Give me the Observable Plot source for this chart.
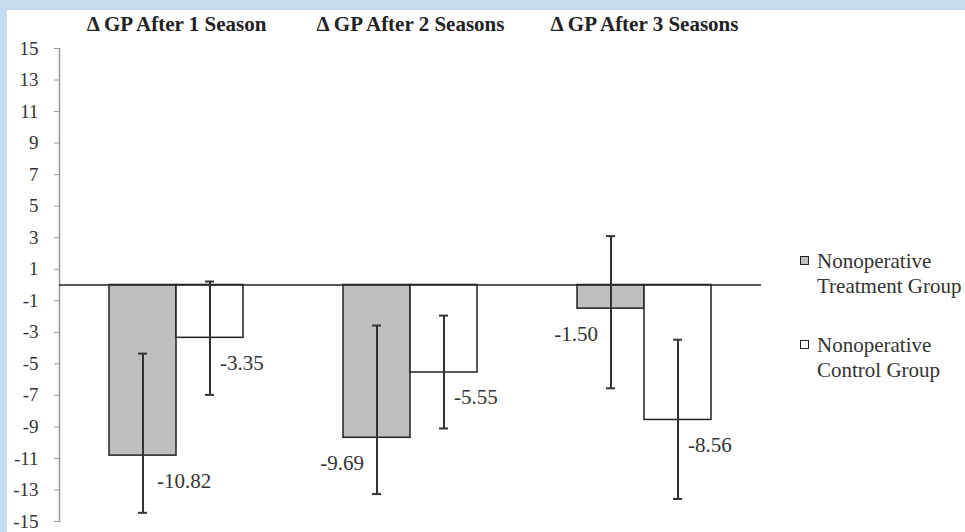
<!DOCTYPE html>
<html>
<head>
<meta charset="utf-8">
<script src="https://cdn.jsdelivr.net/npm/d3@7"></script>
<script src="https://cdn.jsdelivr.net/npm/@observablehq/plot@0.6"></script>
<style>
  html, body { margin: 0; padding: 0; }
  body { width: 965px; height: 532px; background: #c6dbf0; position: relative; overflow: hidden; font-family: "Liberation Serif", serif; }
  #panel { position: absolute; left: 7px; top: 10px; width: 958px; height: 522px; background: #ffffff; }
  #chart { position: absolute; left: 0; top: 0; }
  .legend { position: absolute; left: 793px; color: #333; font-size: 21px; line-height: 25px; font-family: "Liberation Serif", serif; }
  .legend .sw { position: absolute; left: 0; top: 7px; width: 7px; height: 7px; border: 1.5px solid #222; }
  .legend .txt { position: absolute; left: 17px; top: 0; white-space: nowrap; }
</style>
</head>
<body>
<div id="panel">
  <div id="chart"></div>
  <div class="legend" style="top:239px"><div class="sw" style="background:#bfbfbf"></div><div class="txt">Nonoperative<br>Treatment Group</div></div>
  <div class="legend" style="top:323px"><div class="sw" style="background:#ffffff"></div><div class="txt">Nonoperative<br>Control Group</div></div>
</div>
<script>
// ---- data ----
const seasons = ["Δ GP After 1 Season", "Δ GP After 2 Seasons", "Δ GP After 3 Seasons"];
const groups = ["Nonoperative Treatment Group", "Nonoperative Control Group"];
const treatmentMean = [-10.82, -9.69, -1.50];
const treatmentLow  = [-14.45, -13.26, -6.55];
const treatmentHigh = [-4.35, -2.57, 3.10];
const controlMean = [-3.35, -5.55, -8.56];
const controlLow  = [-6.97, -9.10, -13.57];
const controlHigh = [0.22, -1.94, -3.47];
const yTicks = [15, 13, 11, 9, 7, 5, 3, 1, -1, -3, -5, -7, -9, -11, -13, -15];
// which side of its error bar each treatment value label sits
const treatmentLabelSide = ["right", "left", "left"];

const rows = [];
seasons.forEach((s, i) => {
  rows.push({season: s, group: groups[0], mean: treatmentMean[i], low: treatmentLow[i], high: treatmentHigh[i], side: treatmentLabelSide[i]});
  rows.push({season: s, group: groups[1], mean: controlMean[i], low: controlLow[i], high: controlHigh[i], side: "right"});
});

const labelY = d => d.mean - 1.6;
const fmt = d => d.mean.toFixed(2);

const chart = Plot.plot({
  width: 958,
  height: 522,
  marginLeft: 51,
  marginRight: 203,
  marginTop: 38,
  marginBottom: 11,
  style: {fontFamily: "'Liberation Serif', serif", background: "transparent", color: "#333", overflow: "visible"},
  fx: {domain: seasons, padding: 0, label: null},
  x: {domain: groups, paddingInner: 0, paddingOuter: 0.726, axis: null},
  y: {domain: [-15, 15]},
  color: {domain: groups, range: ["#bfbfbf", "#ffffff"]},
  marks: [
    Plot.axisFx({anchor: "top", tickSize: 0, tickPadding: 18, fontSize: 21, fontWeight: "bold", fill: "#222", label: null}),
    Plot.axisY({ticks: yTicks, tickSize: 5, tickPadding: 16, tickFormat: d => String(d), fontSize: 19, stroke: "#999", fill: "#333", label: null}),
    Plot.frame({anchor: "left", facetAnchor: "left", stroke: "#999", strokeWidth: 1.5}),
    Plot.barY(rows, {fx: "season", x: "group", y1: 0, y2: "mean", fill: "group", stroke: "#222", strokeWidth: 1.5}),
    Plot.ruleY([0], {stroke: "#222", strokeWidth: 1.5}),
    Plot.ruleX(rows, {fx: "season", x: "group", y1: "low", y2: "high", stroke: "#333", strokeWidth: 2}),
    Plot.tickY(rows, {fx: "season", x: "group", y: "low", insetLeft: 29, insetRight: 29, stroke: "#333", strokeWidth: 2}),
    Plot.tickY(rows, {fx: "season", x: "group", y: "high", insetLeft: 29, insetRight: 29, stroke: "#333", strokeWidth: 2}),
    Plot.text(rows.filter(d => d.side === "right" && d.group === groups[0]), {fx: "season", x: "group", y: labelY, text: fmt, textAnchor: "start", dx: 14, fontSize: 21, fill: "#333"}),
    Plot.text(rows.filter(d => d.side === "right" && d.group === groups[1]), {fx: "season", x: "group", y: labelY, text: fmt, textAnchor: "start", dx: 10, fontSize: 21, fill: "#333"}),
    Plot.text(rows.filter(d => d.side === "left"), {fx: "season", x: "group", y: labelY, text: fmt, textAnchor: "end", dx: -13, fontSize: 21, fill: "#333"})
  ]
});
document.getElementById("chart").appendChild(chart);
</script>
</body>
</html>
